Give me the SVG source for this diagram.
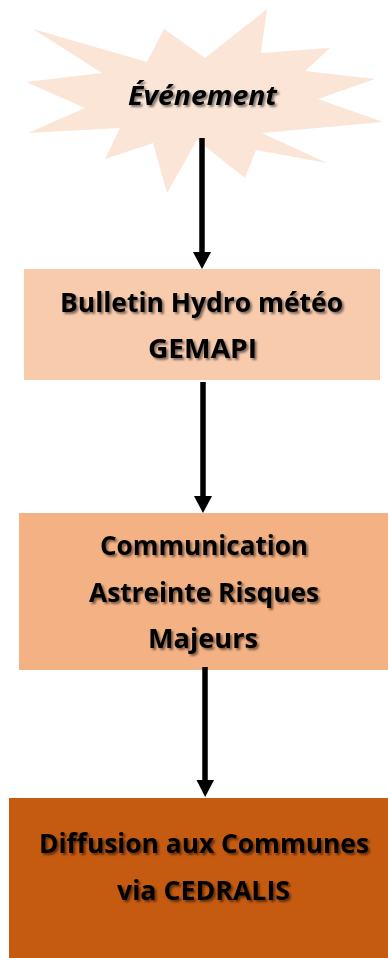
<svg xmlns="http://www.w3.org/2000/svg" width="388" height="958" viewBox="0 0 388 958">
<style>
  .lbl { font-family: "Open Sans", Lato, "Liberation Sans", sans-serif; font-weight: bold; font-size: 26px; fill: #000; text-anchor: middle; }
  .it { font-style: italic; }
  .line { stroke: #000; stroke-width: 5.5; fill: none; }
  .head { fill: #000; }
</style>
<defs>
  <filter id="sh" x="-10%" y="-30%" width="120%" height="160%">
    <feGaussianBlur in="SourceAlpha" stdDeviation="1.3" result="b"/>
    <feOffset in="b" dx="1.5" dy="1.5" result="o"/>
    <feComponentTransfer in="o" result="s"><feFuncA type="linear" slope="0.5"/></feComponentTransfer>
    <feMerge><feMergeNode in="s"/><feMergeNode in="SourceGraphic"/></feMerge>
  </filter>
</defs>
<rect width="388" height="958" fill="#fff"/>
<g id="evenement">
  <polygon fill="#FBE5D6" points="33,29 147,62 164,29 205,58 267,9 261,53 330,48 305,71 375,79 318,99 383,122 262,133 327,163 256,150 245,178 197,140 167,193 153,143 105,159 120,128 28,133 85,108 26,82 102,73"/>
  <text class="lbl it" x="202.5" y="105" textLength="149" lengthAdjust="spacingAndGlyphs" filter="url(#sh)">Événement</text>
</g>
<g id="bulletin">
  <rect x="24" y="269" width="356" height="111" fill="#F8CBAD"/>
  <text class="lbl" x="201.5" y="312" textLength="283" lengthAdjust="spacingAndGlyphs" filter="url(#sh)">Bulletin Hydro météo</text>
  <text class="lbl" x="202.5" y="358" textLength="109" lengthAdjust="spacingAndGlyphs" filter="url(#sh)">GEMAPI</text>
</g>
<g id="communication">
  <rect x="19" y="513" width="369" height="157" fill="#F4B183"/>
  <text class="lbl" x="204" y="555" textLength="208" lengthAdjust="spacingAndGlyphs" filter="url(#sh)">Communication</text>
  <text class="lbl" x="204" y="602" textLength="230" lengthAdjust="spacingAndGlyphs" filter="url(#sh)">Astreinte Risques</text>
  <text class="lbl" x="203" y="648" textLength="110" lengthAdjust="spacingAndGlyphs" filter="url(#sh)">Majeurs</text>
</g>
<g id="diffusion">
  <rect x="9" y="798" width="379" height="160" fill="#C55A11"/>
  <text class="lbl" x="204" y="853" textLength="330" lengthAdjust="spacingAndGlyphs" filter="url(#sh)">Diffusion aux Communes</text>
  <text class="lbl" x="203.5" y="900" textLength="173" lengthAdjust="spacingAndGlyphs" filter="url(#sh)">via CEDRALIS</text>
</g>
<g id="connectors">
  <line class="line" x1="202" y1="138" x2="202" y2="254"/>
  <polygon class="head" points="193,252 211,252 202,269"/>
  <line class="line" x1="203" y1="382" x2="203" y2="498"/>
  <polygon class="head" points="194,496 212,496 203,513"/>
  <line class="line" x1="205" y1="667" x2="205" y2="782"/>
  <polygon class="head" points="196.5,780 214,780 205.2,797"/>
</g>
</svg>
